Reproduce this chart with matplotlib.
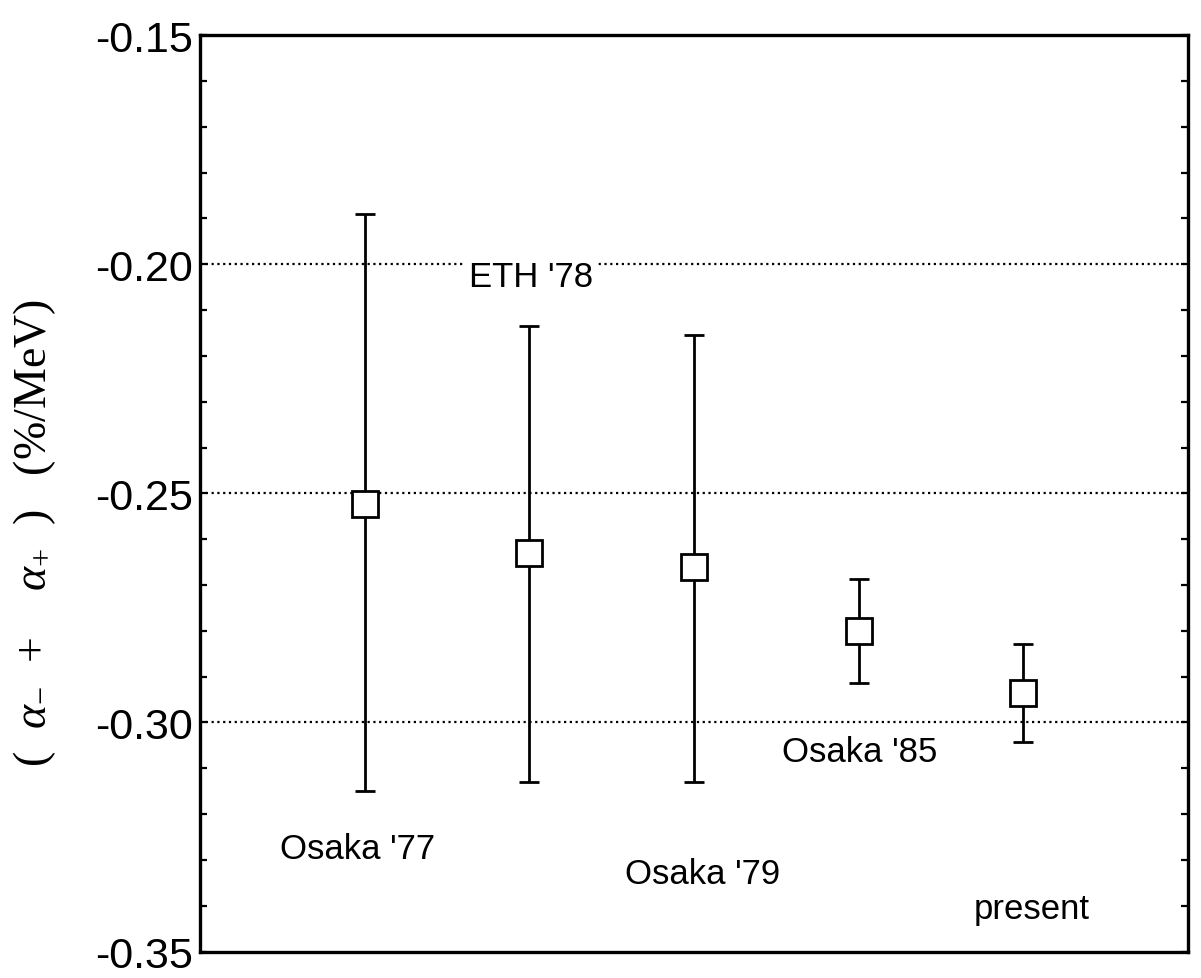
import numpy as np
import matplotlib
matplotlib.use("Agg")
import matplotlib.pyplot as plt
from matplotlib.ticker import MultipleLocator

# ==== DATA ====
experiments = ["Osaka '77", "ETH '78", "Osaka '79", "Osaka '85", "present"]
x_pos = [1, 2, 3, 4, 5]
value = [-0.2524, -0.2630, -0.2660, -0.2800, -0.2935]
err_up = [0.0634, 0.0495, 0.0505, 0.0113, 0.0107]
err_down = [0.0626, 0.0500, 0.0470, 0.0113, 0.0108]

# label anchors (x, baseline y) in data units
label_x = [0.96, 2.01, 3.05, 4.01, 5.05]
label_y = [-0.3296, -0.2048, -0.3350, -0.3083, -0.3426]

ref_lines = [-0.20, -0.25, -0.30]
y_ticks = [-0.35, -0.30, -0.25, -0.20, -0.15]
y_ticklabels = ["-0.35", "-0.30", "-0.25", "-0.20", "-0.15"]

# ==== FIGURE ====
plt.rcParams["font.family"] = ["Liberation Sans", "DejaVu Sans"]
plt.rcParams["mathtext.fontset"] = "custom"
plt.rcParams["mathtext.rm"] = "Liberation Serif"
plt.rcParams["mathtext.it"] = "Liberation Serif:italic"

fig = plt.figure(figsize=(12.01, 9.79), dpi=100)
ax = fig.add_axes([0.1665, 0.027, 0.8225, 0.936])

# dotted reference lines
for yv in ref_lines:
    ax.axhline(yv, color="black", linestyle=(0, (1, 1.6)), linewidth=1.6, zorder=1)

ax.errorbar(
    x_pos,
    value,
    yerr=[err_down, err_up],
    fmt="s",
    markersize=19,
    markerfacecolor="white",
    markeredgecolor="black",
    markeredgewidth=2.0,
    ecolor="black",
    elinewidth=2.0,
    capsize=7,
    capthick=2.0,
    color="black",
    zorder=3,
)

for name, lx, ly in zip(experiments, label_x, label_y):
    t = ax.text(lx, ly, name, ha="center", va="baseline", fontsize=25, zorder=2)
    if name == "ETH '78":
        # blank out the dotted line behind this label
        t.set_bbox(dict(facecolor="white", edgecolor="none", pad=3))

ax.set_xlim(0, 6)
ax.set_ylim(-0.35, -0.15)
ax.set_xticks([])
ax.set_yticks(y_ticks)
ax.set_yticklabels(y_ticklabels, fontsize=31)
ax.yaxis.set_minor_locator(MultipleLocator(0.01))
ax.tick_params(axis="y", which="both", direction="in", right=True,
               length=5, width=1.6, pad=5)
for sp in ax.spines.values():
    sp.set_linewidth(2.4)

fig.text(0.029, 0.455, r"(  $\alpha_{-}$  +    $\alpha_{+}$  )   (%/MeV)",
         rotation=90, ha="center", va="center", fontsize=33,
         family="Liberation Serif")

fig.savefig("out.png", dpi=100)
